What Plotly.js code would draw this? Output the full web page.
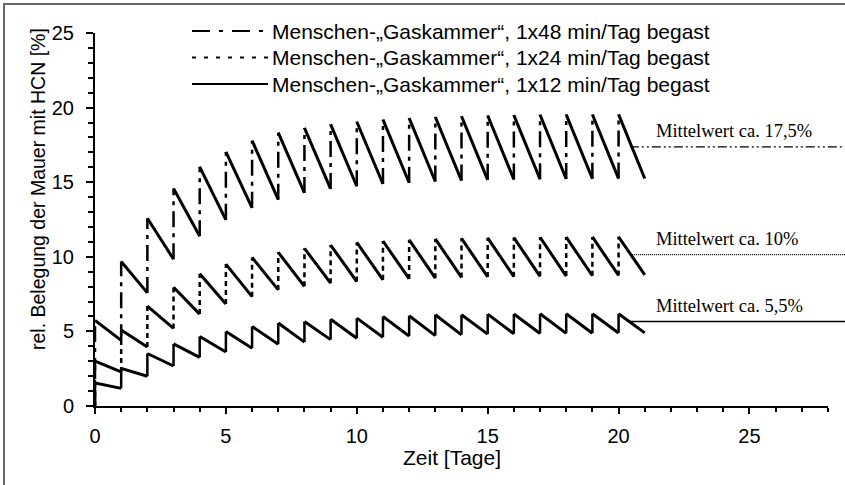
<!DOCTYPE html>
<html><head><meta charset="utf-8">
<script src="https://cdn.plot.ly/plotly-3.0.1.min.js"></script>
<style>html,body{margin:0;padding:0;background:#fff}#chart{width:845px;height:485px}</style>
</head><body><div id="chart"></div>
<script>
// ---- data ----
const days = [0,1,2,3,4,5,6,7,8,9,10,11,12,13,14,15,16,17,18,19,20];
// value just after the daily gassing at day d
const peaks48 = [5.74,9.68,12.58,14.58,16.03,17.03,17.78,18.32,18.64,18.87,19.05,19.19,19.29,19.37,19.42,19.47,19.50,19.52,19.53,19.54,19.55];
// value just before the next gassing (at day d+1)
const valleys48 = [4.40,7.58,9.84,11.38,12.48,13.28,13.83,14.28,14.55,14.73,14.88,14.96,15.05,15.11,15.16,15.18,15.20,15.22,15.23,15.24,15.25];
const peaks24 = [3.00,5.10,6.70,7.96,8.86,9.51,9.96,10.30,10.57,10.79,10.96,11.06,11.14,11.20,11.24,11.27,11.29,11.31,11.32,11.33,11.34];
const valleys24 = [2.28,3.96,5.20,6.16,6.84,7.33,7.78,8.02,8.23,8.34,8.46,8.52,8.57,8.62,8.65,8.67,8.69,8.71,8.73,8.75,8.79];
const peaks12 = [1.54,2.52,3.52,4.16,4.66,4.99,5.33,5.56,5.67,5.82,5.89,6.00,6.05,6.12,6.12,6.16,6.17,6.18,6.18,6.18,6.18];
const valleys12 = [1.18,1.99,2.68,3.26,3.62,3.87,4.14,4.28,4.45,4.54,4.61,4.68,4.72,4.77,4.82,4.84,4.86,4.87,4.88,4.89,4.90];
const seriesNames = ['Menschen-„Gaskammer“, 1x48 min/Tag begast','Menschen-„Gaskammer“, 1x24 min/Tag begast','Menschen-„Gaskammer“, 1x12 min/Tag begast'];
const meanLabels = ['Mittelwert ca. 17,5%','Mittelwert ca. 10%','Mittelwert ca. 5,5%'];
const meanLevels = [17.37, 10.14, 5.66];
const xTickVals = [0,5,10,15,20,25];
const yTickVals = [0,5,10,15,20,25];
const xTitle = 'Zeit [Tage]';
const yTitle = 'rel. Belegung der Mauer mit HCN [%]';

// ---- geometry ----
const W = 845, H = 485, M = {l:95, r:17, t:33, b:79};
const PW = W - M.l - M.r, PH = H - M.t - M.b;
const XR = [0,28], YR = [0,25];
const pxX = px => (px - M.l) / PW;
const pxY = py => (H - M.b - py) / PH;
const dataXtoPaper = x => (x - XR[0]) / (XR[1] - XR[0]);

const jumpDash = ['16px,6px,4px,6px', '5px,4px', 'solid'];
const legendDash = ['18px,9px,4px,9px', '4px,8px', 'solid'];
const meanDash = ['9px,3px,2px,3px,2px,3px', '1px,1px', 'solid'];

function build(peaks, valleys) {
  const jx = [], jy = [], dx = [], dy = [];
  days.forEach((d, i) => {
    jx.push(d, d, null); jy.push(i === 0 ? 0 : valleys[i-1], peaks[i], null);
    dx.push(d, d + 1, null); dy.push(peaks[i], valleys[i], null);
  });
  return {jx, jy, dx, dy};
}
const all = [[peaks48, valleys48], [peaks24, valleys24], [peaks12, valleys12]];
const traces = [];
all.forEach((pv, k) => {
  const b = build(pv[0], pv[1]);
  traces.push({x: b.jx, y: b.jy, mode: 'lines', type: 'scatter', showlegend: false, hoverinfo: 'skip',
    line: {color: '#000', width: 2.5, dash: jumpDash[k]}});
  traces.push({x: b.dx, y: b.dy, mode: 'lines', type: 'scatter', name: seriesNames[k], showlegend: false,
    line: {color: '#000', width: 3}});
});

const FONT = 'Liberation Sans, Arial, sans-serif';
const SERIF = 'Liberation Serif, Times New Roman, serif';
const shapes = [], annotations = [];

// frame (left and top borders)
shapes.push({type: 'path', xref: 'paper', yref: 'paper',
  path: `M ${pxX(4)} ${pxY(H+10)} L ${pxX(4)} ${pxY(4)} L ${pxX(W+10)} ${pxY(4)}`,
  line: {color: '#666', width: 2}});

// legend
const legY = [31, 57.5, 84];
seriesNames.forEach((n, k) => {
  shapes.push({type: 'line', xref: 'paper', yref: 'paper', x0: pxX(192), x1: pxX(268), y0: pxY(legY[k]), y1: pxY(legY[k]),
    line: {color: '#000', width: 2, dash: legendDash[k]}});
  annotations.push({xref: 'paper', yref: 'paper', x: pxX(270), y: pxY(legY[k]), xanchor: 'left', yanchor: 'middle',
    text: n, showarrow: false, font: {family: FONT, size: 21, color: '#000'}});
});

// mean lines
meanLevels.forEach((v, k) => {
  const yp = (v - YR[0]) / (YR[1] - YR[0]);
  shapes.push({type: 'line', xref: 'paper', yref: 'paper', x0: dataXtoPaper(days[days.length-1] + 0.43), x1: pxX(W + 5), y0: yp, y1: yp,
    line: {color: '#000', width: k === 2 ? 1.5 : 1.2, dash: meanDash[k]}});
  annotations.push({xref: 'x', yref: 'y', x: 21.35, y: v + 1.05, xanchor: 'left', yanchor: 'middle',
    text: meanLabels[k], showarrow: false, font: {family: SERIF, size: 18.5, color: '#000'}});
});

// axis titles
annotations.push({xref: 'paper', yref: 'paper', x: pxX(452), y: pxY(457), xanchor: 'center', yanchor: 'middle',
  text: xTitle, showarrow: false, font: {family: FONT, size: 21, color: '#000'}});
annotations.push({xref: 'paper', yref: 'paper', x: pxX(38), y: pxY(189), xanchor: 'center', yanchor: 'middle', textangle: -90,
  text: yTitle, showarrow: false, font: {family: FONT, size: 19.5, color: '#000'}});

const layout = {
  width: W, height: H, margin: M, paper_bgcolor: '#fff', plot_bgcolor: '#fff', showlegend: false,
  font: {family: FONT, size: 20, color: '#000'},
  xaxis: {range: XR, tickvals: xTickVals, ticktext: xTickVals.map(String), ticks: 'outside', ticklen: 6, tickwidth: 2, tickcolor: '#000',
    showline: true, linecolor: '#000', linewidth: 2, showgrid: false, zeroline: false, ticklabelstandoff: 5,
    minor: {dtick: 1, ticks: 'outside', ticklen: 4, tickwidth: 2, tickcolor: '#000', showgrid: false},
    tickfont: {family: FONT, size: 20, color: '#000'}},
  yaxis: {range: YR, tickvals: yTickVals, ticktext: yTickVals.map(String), ticks: 'outside', ticklen: 7, tickwidth: 2, tickcolor: '#000',
    showline: true, linecolor: '#000', linewidth: 2, showgrid: false, zeroline: false, ticklabelstandoff: 8,
    minor: {dtick: 1, ticks: 'outside', ticklen: 5, tickwidth: 2, tickcolor: '#000', showgrid: false},
    tickfont: {family: FONT, size: 20, color: '#000'}},
  shapes: shapes, annotations: annotations
};
Plotly.newPlot('chart', traces, layout, {displayModeBar: false, staticPlot: true});
</script></body></html>
